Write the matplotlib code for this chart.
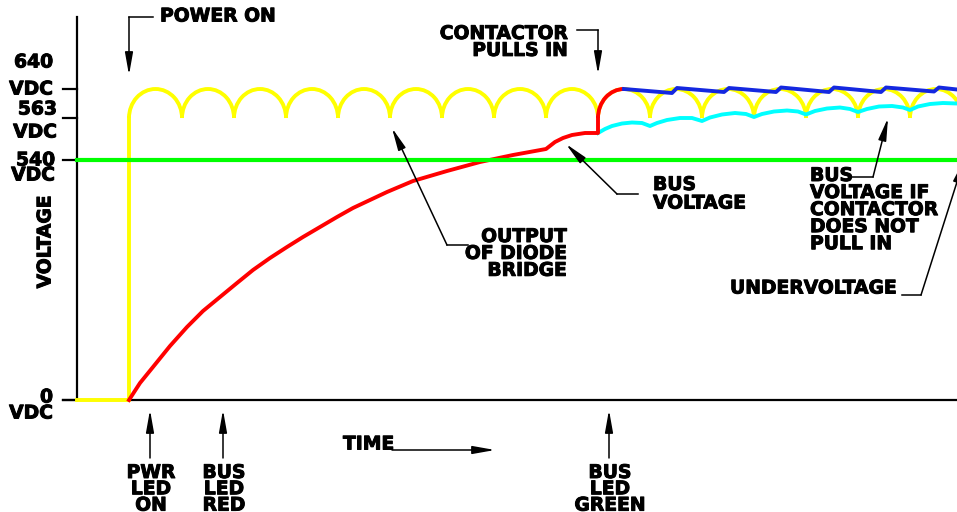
import matplotlib.pyplot as plt
import matplotlib.patheffects as pe
from matplotlib.patches import Arc, FancyArrowPatch

# schematic drawing units: x = time, y = level on the sheet (grows downwards)
tick_labels = ['640', '563', '540', '0']
tick_y = [89, 118, 160, 400]

# rectified output of the diode bridge (cusps and ripple levels)
ripple_cusps = [129, 182, 234, 286, 338, 390, 442, 494, 546, 598,
                650, 702, 754, 806, 858, 910, 962]
ripple_peak = 89
ripple_low = 118

# bus voltage charging up until the contactor pulls in
bus_x = [129, 140, 153, 170, 187, 203, 220, 237, 253, 270, 287, 303, 320,
         337, 353, 370, 387, 413, 447, 480, 513, 546, 555, 563, 572, 585, 598, 598]
bus_y = [400, 383, 367, 346, 327, 311, 297, 283, 270, 258, 247, 237, 227,
         217, 208, 200, 192, 181, 171, 162, 155, 149, 142, 138, 135, 133, 133, 118]

# bus voltage after contactor pulls in
after_x = [624, 672, 677, 724, 729, 776, 781, 829, 834, 881, 886, 934, 939, 957]
after_y = [89, 93, 88, 92, 88, 92, 87.5, 92, 87.5, 92, 87.5, 91.5, 87.5, 89.5]

# bus voltage if contactor does not pull in
nopull_x = [598, 605, 612, 622, 632, 642, 650, 657, 667, 680, 692, 702, 710,
            722, 735, 746, 754, 762, 774, 787, 798, 806, 815, 827, 840, 850,
            858, 867, 879, 892, 903, 910, 918, 930, 943, 957]
nopull_y = [133, 129, 126, 123.5, 122.5, 123, 126, 123, 120, 118, 118, 121,
            117.5, 114.5, 113, 114, 117, 114, 111.5, 110.5, 111.5, 114.5, 111,
            108.5, 107.5, 109, 112, 109, 106.5, 106, 107.5, 110, 106.5, 104,
            103, 103.5]

undervoltage_y = 160

fig = plt.figure(figsize=(9.57, 5.12), dpi=100)
ax = fig.add_axes([0, 0, 1, 1])
ax.set_xlim(0, 957)
ax.set_ylim(512, 0)
ax.axis('off')

YEL, RED, GRN, BLU, CYN = '#FFFF00', '#FF0000', '#00FF00', '#1428E0', '#00FFFF'
lw = 2.8
bold = [pe.withStroke(linewidth=0.7, foreground='black')]
tk = dict(fontsize=13.5, fontweight='bold', color='black', path_effects=bold)

# axes of the sketch
ax.plot([77, 77], [17, 400], color='black', lw=1.6, zorder=1)
ax.plot([63, 957], [400, 400], color='black', lw=1.6, zorder=1)
for y in tick_y:
    ax.plot([63, 77], [y, y], color='black', lw=1.6, zorder=1)

# diode bridge output
ax.plot([77, 129, 129], [400, 400, ripple_low], color=YEL, lw=lw,
        solid_joinstyle='miter', zorder=2)
for c0, c1 in zip(ripple_cusps[:-1], ripple_cusps[1:]):
    ax.add_patch(Arc(((c0 + c1) / 2, ripple_low), c1 - c0,
                     2 * (ripple_low - ripple_peak), theta1=180, theta2=360,
                     color=YEL, lw=lw, zorder=2))

# bus voltage
ax.plot(nopull_x, nopull_y, color=CYN, lw=lw, zorder=3)
ax.plot(bus_x, bus_y, color=RED, lw=lw, zorder=4)
ax.add_patch(Arc((624, ripple_low), 52, 2 * (ripple_low - ripple_peak),
                 theta1=180, theta2=270, color=RED, lw=lw, zorder=4))
ax.plot(after_x, after_y, color=BLU, lw=lw, zorder=4)

# undervoltage threshold
ax.plot([77, 957], [undervoltage_y, undervoltage_y], color=GRN, lw=3, zorder=5)


def leader(xs, ys):
    if len(xs) > 2:
        ax.plot(xs[:-1], ys[:-1], color='black', lw=1.1, zorder=6)
    ax.add_patch(FancyArrowPatch((xs[-2], ys[-2]), (xs[-1], ys[-1]),
                 arrowstyle='-|>,head_length=1.35,head_width=0.24',
                 mutation_scale=10, color='black', lw=1.1,
                 shrinkA=0, shrinkB=0, zorder=6))


# left scale labels
ax.text(53, 62, tick_labels[0], ha='right', va='center', **tk)
ax.text(53, 89, 'VDC', ha='right', va='center', **tk)
ax.text(57, 109, tick_labels[1], ha='right', va='center', **tk)
ax.text(57, 132, 'VDC', ha='right', va='center', **tk)
ax.text(55, 160, tick_labels[2], ha='right', va='center', **tk)
ax.text(55, 175, 'VDC', ha='right', va='center', **tk)
ax.text(53, 397, tick_labels[3], ha='right', va='center', **tk)
ax.text(53, 413, 'VDC', ha='right', va='center', **tk)
ax.text(45, 242, 'VOLTAGE', rotation=90, ha='center', va='center', **tk)

# callouts
ax.text(160, 16, 'POWER ON', ha='left', va='center', **tk)
leader([153, 129, 129], [17, 17, 75])

ax.text(568, 24, 'CONTACTOR\nPULLS IN', ha='right', va='top',
        multialignment='right', linespacing=0.86, **tk)
leader([577, 598, 598], [30, 30, 74])

ax.text(653, 175, 'BUS\nVOLTAGE', ha='left', va='top', linespacing=0.97, **tk)
leader([638, 617, 566], [194, 194, 144])

ax.text(567, 227, 'OUTPUT\nOF DIODE\nBRIDGE', ha='right', va='top',
        multialignment='right', linespacing=0.86, **tk)
leader([468, 447, 392], [245, 245, 128])

ax.text(810, 166, 'BUS\nVOLTAGE IF\nCONTACTOR\nDOES NOT\nPULL IN', ha='left',
        va='top', linespacing=0.87, **tk)
leader([852, 873, 888], [177, 177, 118])

ax.text(730, 288, 'UNDERVOLTAGE', ha='left', va='center', **tk)
leader([902, 921, 964], [295, 295, undervoltage_y])

# time axis marks
ax.text(343, 444, 'TIME', ha='left', va='center', **tk)
leader([392, 495], [450, 450])

for x, lab in [(150, 'PWR\nLED\nON'), (223, 'BUS\nLED\nRED'), (609, 'BUS\nLED\nGREEN')]:
    ax.text(x + 1, 463, lab, ha='center', va='top', linespacing=0.82, **tk)
    leader([x, x], [458, 410])

fig.savefig('out.png', dpi=100)
